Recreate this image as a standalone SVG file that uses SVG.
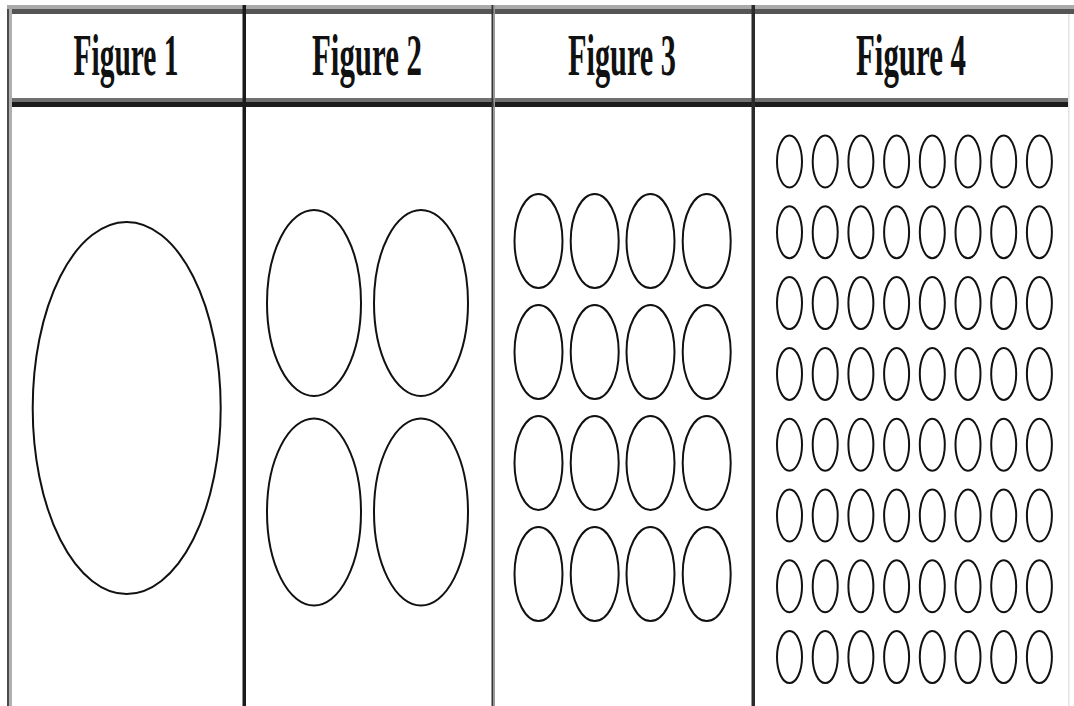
<svg xmlns="http://www.w3.org/2000/svg" width="1074" height="706" viewBox="0 0 1074 706">
<style>
.lbl{font-family:"Liberation Serif","Times New Roman",serif;font-weight:bold;font-size:60px;fill:#111;text-anchor:middle}
.o{fill:none;stroke:#111;stroke-width:2}
</style>
<rect x="0" y="0" width="1074" height="706" fill="#fff"/>
<g id="grid">
<rect x="7" y="5" width="1067" height="4" fill="#aaa"/>
<rect x="7" y="9" width="1067" height="5" fill="#555"/>
<rect x="7" y="98" width="1062" height="4" fill="#707070"/>
<rect x="7" y="102" width="1062" height="5" fill="#1c1c1c"/>
<rect x="7" y="9" width="2" height="697" fill="#4a4a4a"/>
<rect x="9" y="9" width="3" height="697" fill="#b0b0b0"/>
<rect x="242.5" y="5" width="3.5" height="701" fill="#1a1a1a"/>
<rect x="491.5" y="5" width="2" height="701" fill="#333"/>
<rect x="493.5" y="5" width="1.5" height="701" fill="#999"/>
<rect x="751.5" y="5" width="3.5" height="701" fill="#2a2a2a"/>
<rect x="1068" y="14" width="1.5" height="692" fill="#e4e4e4"/>
</g>
<g id="fig1">
<text class="lbl" x="126" y="75" textLength="105" lengthAdjust="spacingAndGlyphs">Figure 1</text>
<ellipse class="o" cx="126.7" cy="408" rx="94" ry="186"/>
</g>
<g id="fig2">
<text class="lbl" x="367" y="75" textLength="110" lengthAdjust="spacingAndGlyphs">Figure 2</text>
<ellipse class="o" cx="314" cy="303" rx="47" ry="93"/>
<ellipse class="o" cx="421" cy="303" rx="47" ry="93"/>
<ellipse class="o" cx="314" cy="512" rx="47" ry="93.5"/>
<ellipse class="o" cx="421" cy="512" rx="47" ry="93.5"/>
</g>
<g id="fig3">
<text class="lbl" x="622" y="75" textLength="108" lengthAdjust="spacingAndGlyphs">Figure 3</text>
<g id="fig3-cells">
<ellipse class="o" cx="538.5" cy="241" rx="24" ry="47"/><ellipse class="o" cx="594.7" cy="241" rx="24" ry="47"/><ellipse class="o" cx="650.5" cy="241" rx="24" ry="47"/><ellipse class="o" cx="706.7" cy="241" rx="24" ry="47"/>
<ellipse class="o" cx="538.5" cy="352" rx="24" ry="47"/><ellipse class="o" cx="594.7" cy="352" rx="24" ry="47"/><ellipse class="o" cx="650.5" cy="352" rx="24" ry="47"/><ellipse class="o" cx="706.7" cy="352" rx="24" ry="47"/>
<ellipse class="o" cx="538.5" cy="463" rx="24" ry="47"/><ellipse class="o" cx="594.7" cy="463" rx="24" ry="47"/><ellipse class="o" cx="650.5" cy="463" rx="24" ry="47"/><ellipse class="o" cx="706.7" cy="463" rx="24" ry="47"/>
<ellipse class="o" cx="538.5" cy="574" rx="24" ry="47"/><ellipse class="o" cx="594.7" cy="574" rx="24" ry="47"/><ellipse class="o" cx="650.5" cy="574" rx="24" ry="47"/><ellipse class="o" cx="706.7" cy="574" rx="24" ry="47"/>
</g>
</g>
<g id="fig4">
<text class="lbl" x="911" y="75" textLength="110" lengthAdjust="spacingAndGlyphs">Figure 4</text>
<defs><ellipse id="s" class="o" cx="0" cy="0" rx="12.5" ry="26"/></defs>
<g id="r0" transform="translate(0,161.5)">
<use href="#s" x="789.5"/><use href="#s" x="825.2"/><use href="#s" x="860.9"/><use href="#s" x="896.6"/><use href="#s" x="932.3"/><use href="#s" x="968"/><use href="#s" x="1003.7"/><use href="#s" x="1039.4"/>
</g>
<use href="#r0" y="70.8"/>
<use href="#r0" y="141.6"/>
<use href="#r0" y="212.4"/>
<use href="#r0" y="283.2"/>
<use href="#r0" y="354"/>
<use href="#r0" y="424.8"/>
<use href="#r0" y="495.6"/>
</g>
</svg>
